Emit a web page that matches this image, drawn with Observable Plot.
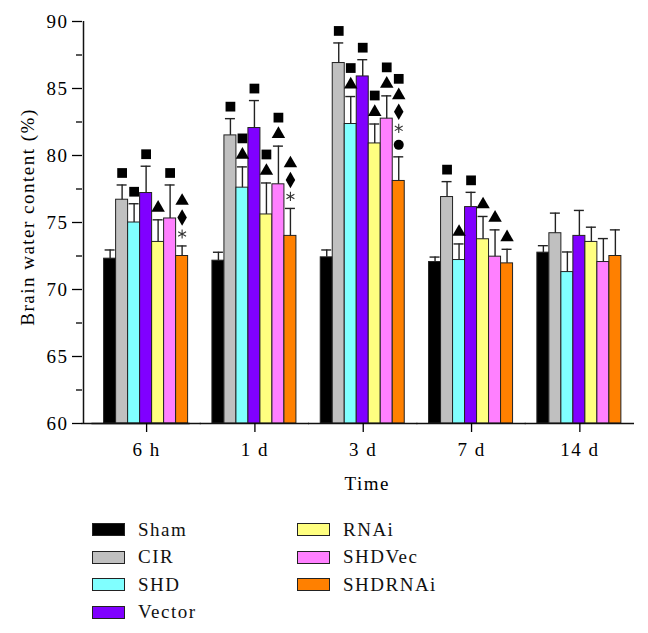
<!DOCTYPE html>
<html>
<head>
<meta charset="utf-8">
<script src="https://cdn.jsdelivr.net/npm/d3@7"></script>
<script src="https://cdn.jsdelivr.net/npm/@observablehq/plot@0.6"></script>
<style>
  body { margin: 0; background: #fff; font-family: "Liberation Serif", serif; }
  #chart { width: 648px; }
  #legend {
    display: grid;
    grid-template-rows: repeat(4, 27.5px);
    grid-auto-flow: column;
    grid-template-columns: 205px auto;
    padding-left: 92px;
    padding-top: 11px;
    font-size: 19px;
    letter-spacing: 1.5px;
    color: #111;
  }
  .item { display: flex; align-items: center; }
  .sw { width: 31px; height: 11px; border: 1.5px solid #222; margin-right: 13px; }
</style>
</head>
<body>
<div id="chart"></div>
<div id="legend"></div>
<script>
const times = ["6 h", "1 d", "3 d", "7 d", "14 d"];
const groups = ["Sham", "CIR", "SHD", "Vector", "RNAi", "SHDVec", "SHDRNAi"];
const colors = ["#000000", "#c0c0c0", "#80ffff", "#8000ff", "#ffff80", "#ff80ff", "#ff8000"];

// means (%), one array per group across times
const shamMean    = [72.3, 72.15, 72.4, 72.05, 72.75];
const cirMean     = [76.7, 81.5, 86.9, 76.9, 74.2];
const shdMean     = [75.0, 77.6, 82.35, 72.2, 71.3];
const vectorMean  = [77.2, 82.05, 85.9, 76.15, 74.0];
const rnaiMean    = [73.55, 75.6, 80.9, 73.75, 73.55];
const shdvecMean  = [75.3, 77.85, 82.75, 72.45, 72.05];
const shdrnaiMean = [72.5, 74.0, 78.1, 71.95, 72.5];

// error bar (SD), upward
const shamErr    = [0.65, 0.63, 0.55, 0.37, 0.52];
const cirErr     = [1.1, 1.25, 1.5, 1.15, 1.5];
const shdErr     = [1.4, 1.55, 2.05, 1.2, 1.5];
const vectorErr  = [2.0, 2.05, 1.25, 1.1, 1.9];
const rnaiErr    = [1.65, 2.35, 1.45, 1.7, 1.1];
const shdvecErr  = [2.5, 2.85, 1.7, 2.0, 1.75];
const shdrnaiErr = [0.75, 2.05, 1.8, 1.05, 1.95];

// significance markers, listed bottom-up: S square, T triangle, D diamond, A asterisk, C circle
const shamSig    = ["", "", "", "", ""];
const cirSig     = ["S", "S", "S", "S", ""];
const shdSig     = ["S", "TS", "TS", "T", ""];
const vectorSig  = ["S", "S", "S", "S", ""];
const rnaiSig    = ["T", "TS", "TS", "T", ""];
const shdvecSig  = ["S", "TS", "TS", "T", ""];
const shdrnaiSig = ["ADT", "ADT", "CADTS", "T", ""];

const yTicks = [60, 65, 70, 75, 80, 85, 90];
const yMinorTicks = [62.5, 67.5, 72.5, 77.5, 82.5, 87.5];
const yLabel = "Brain water content (%)";
const xLabel = "Time";

const means = [shamMean, cirMean, shdMean, vectorMean, rnaiMean, shdvecMean, shdrnaiMean];
const errs = [shamErr, cirErr, shdErr, vectorErr, rnaiErr, shdvecErr, shdrnaiErr];
const sigs = [shamSig, cirSig, shdSig, vectorSig, rnaiSig, shdvecSig, shdrnaiSig];
const symbolOf = {S: "square", T: "triangle", D: "diamond", A: "asterisk", C: "circle"};
const radiusOf = {square: 5.5, triangle: 5.0, diamond: 5.0, asterisk: 4.3, circle: 5.0};

const data = groups.flatMap((g, gi) => times.map((t, ti) => ({
  time: t, group: g, value: means[gi][ti], err: errs[gi][ti], top: means[gi][ti] + errs[gi][ti]
})));

const sigRecs = [];
groups.forEach((g, gi) => times.forEach((t, ti) => {
  [...sigs[gi][ti]].forEach((c, k) => sigRecs.push({
    time: t, group: g, top: means[gi][ti] + errs[gi][ti], symbol: symbolOf[c], level: k
  }));
}));

const sigMarks = [];
for (let k = 0; k < 5; k++) {
  for (const s of ["square", "triangle", "diamond", "circle", "asterisk"]) {
    const recs = sigRecs.filter(d => d.level === k && d.symbol === s);
    if (!recs.length) continue;
    const isStroke = s === "asterisk";
    sigMarks.push(Plot.dot(recs, {
      fx: "time", x: "group", y: "top",
      symbol: s, r: radiusOf[s],
      fill: isStroke ? "none" : "#000",
      stroke: isStroke ? "#333" : "none",
      strokeWidth: isStroke ? 1.1 : 0,
      dy: -(12 + 16.5 * k)
    }));
  }
}

const yBase = yTicks[0];
const yTop = yTicks[yTicks.length - 1];
const W = 648, marginLeft = 82, marginRight = 15;
const textStyle = {fontSize: 19, letterSpacing: "1.5px"};
const facetRows = times.map(t => ({time: t}));

function makePlot(g) {
  return Plot.plot({
    width: W,
    height: 505,
    marginLeft,
    marginRight,
    marginTop: 21,
    marginBottom: 82,
    style: {fontFamily: "'Liberation Serif', serif", fontSize: "19px", letterSpacing: "1.5px", color: "#000", background: "#fff"},
    fx: {domain: times, paddingInner: 0.197, paddingOuter: 0.142, align: 0.67, round: false, label: null},
    x: {domain: groups, padding: 0, axis: null},
    y: {domain: [yBase, yTop]},
    color: {domain: groups, range: colors},
    marks: [
      Plot.barY(data, {fx: "time", x: "group", y1: () => yBase, y2: "value", fill: "group", stroke: "#222", strokeWidth: 1}),
      Plot.ruleX(data, {fx: "time", x: "group", y1: "value", y2: "top", stroke: "#222", strokeWidth: 1.4}),
      Plot.tickY(data, {fx: "time", x: "group", y: "top", stroke: "#222", strokeWidth: 1.4, insetLeft: 1, insetRight: 1}),
      ...sigMarks,
      // axis lines: bottom line through every facet and the gaps between them, left line on the margin
      Plot.ruleY(facetRows, {fx: "time", y: () => yBase, stroke: "#111", strokeWidth: 1.5, insetLeft: -g.gap / 2 - 0.5, insetRight: -g.gap / 2 - 0.5}),
      Plot.ruleY(facetRows.slice(0, 1), {fx: "time", y: () => yBase, stroke: "#111", strokeWidth: 1.5, insetLeft: -g.extL - 0.5}),
      Plot.ruleX(facetRows.slice(0, 1), {fx: "time", x: () => groups[0], y1: () => yBase, y2: () => yTop, stroke: "#111", strokeWidth: 1.5, dx: -(g.extL + g.xBand / 2)}),
      Plot.axisY({ticks: yTicks, tickSize: 10, tickPadding: 4, strokeWidth: 1.3, label: null, dx: -g.extL}),
      Plot.axisY({ticks: yMinorTicks, tickSize: 6, text: null, label: null, strokeWidth: 1.3, dx: -g.extL}),
      Plot.axisFx({anchor: "bottom", tickSize: 9, tickPadding: 10, strokeWidth: 1.3, label: null}),
      Plot.text([yLabel], {text: d => d, frameAnchor: "left", rotate: -90, dx: -55 - g.extL, dy: -5.5, textAnchor: "middle", lineAnchor: "middle", facet: "super", ...textStyle}),
      Plot.text([xLabel], {text: d => d, frameAnchor: "bottom", dx: 4, dy: 60, lineAnchor: "middle", facet: "super", ...textStyle})
    ]
  });
}

// first pass reads where the facets lie so the axis lines sit on the plot margins
const probe = makePlot({extL: 0, gap: 0, xBand: 0});
const fxScale = probe.scale("fx");
const geom = {
  extL: fxScale.apply(times[0]) - marginLeft,
  gap: fxScale.step - fxScale.bandwidth,
  xBand: probe.scale("x").bandwidth
};
const chart = makePlot(geom);
document.getElementById("chart").append(chart);

const legend = document.getElementById("legend");
groups.forEach((g, i) => {
  const item = document.createElement("div");
  item.className = "item";
  const sw = document.createElement("span");
  sw.className = "sw";
  sw.style.background = colors[i];
  const label = document.createElement("span");
  label.textContent = g;
  item.append(sw, label);
  legend.append(item);
});
</script>
</body>
</html>
